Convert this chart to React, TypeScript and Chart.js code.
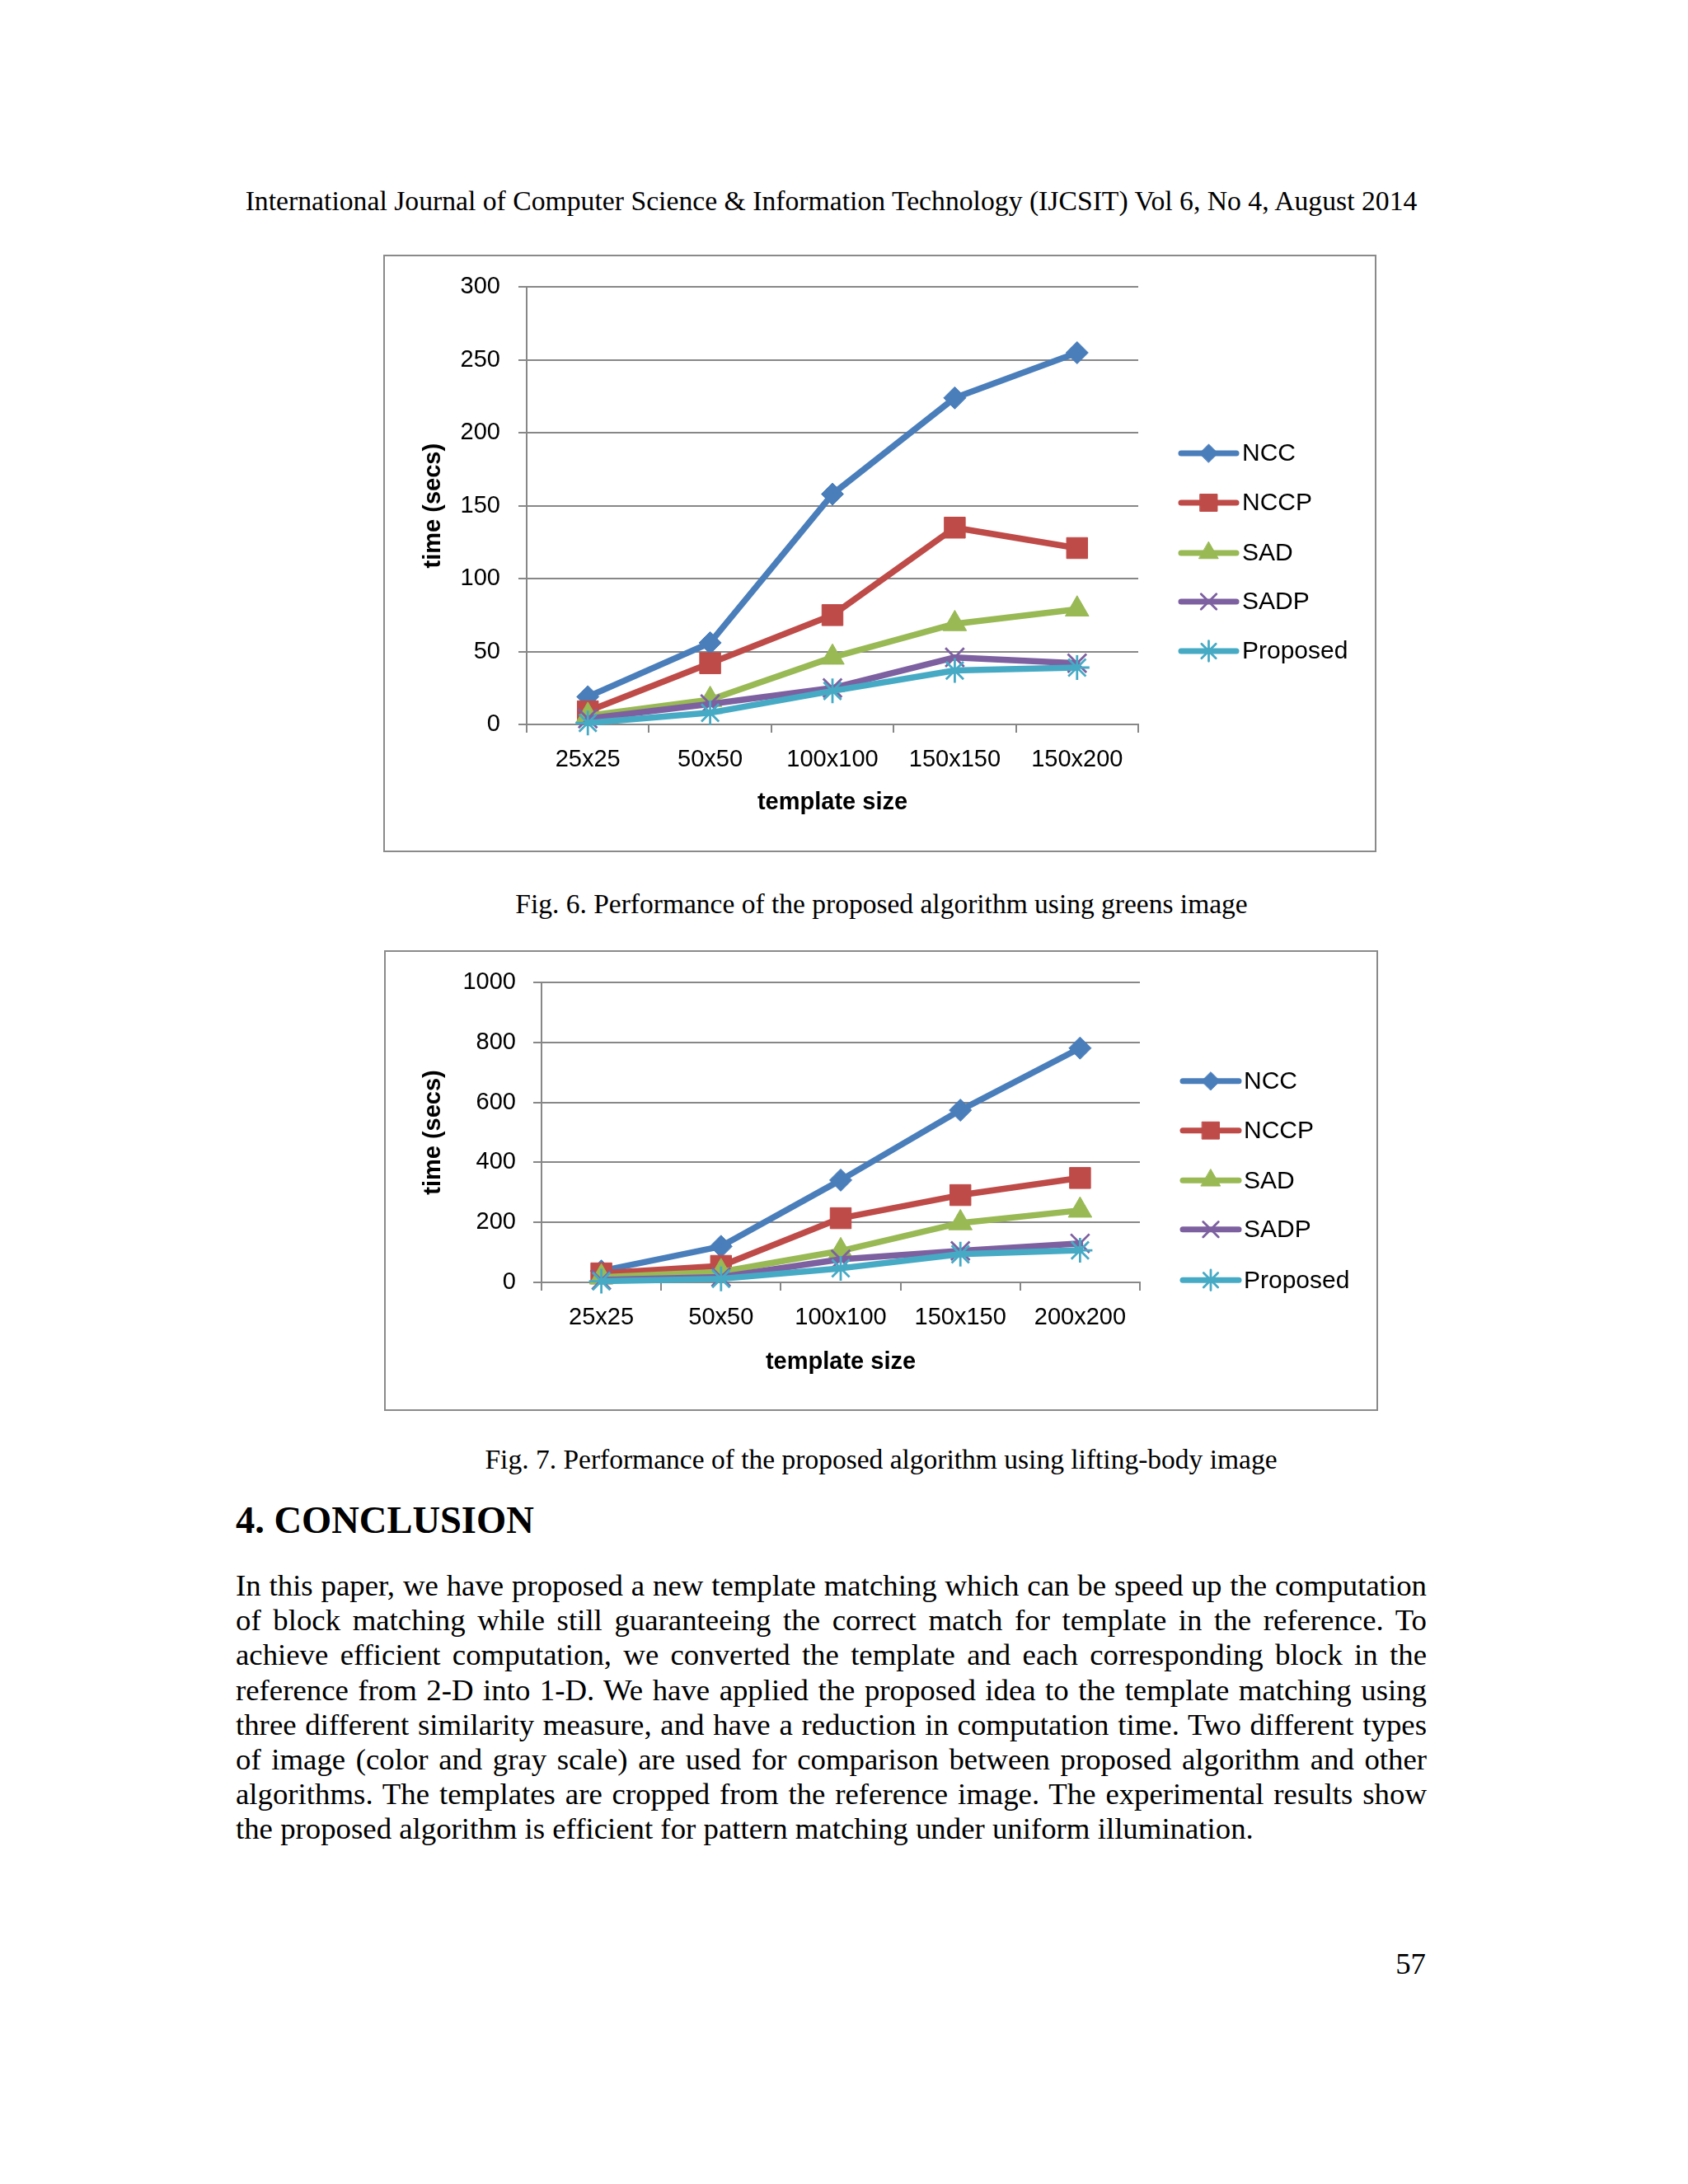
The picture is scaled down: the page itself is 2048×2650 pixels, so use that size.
import React, { useEffect, useRef } from 'react';
import { Chart, registerables } from 'chart.js';
import { drawPoint } from 'chart.js/helpers';

Chart.register(...registerables);

// ---------- data ----------
const SERIES_NAMES = ['NCC', 'NCCP', 'SAD', 'SADP', 'Proposed'];

const FIG6_CATEGORIES = ['25x25', '50x50', '100x100', '150x150', '150x200'];
const FIG6_NCC = [19, 56, 158, 224, 255];
const FIG6_NCCP = [9, 42, 75, 135, 121];
const FIG6_SAD = [6, 17, 46, 69, 79];
const FIG6_SADP = [4, 14, 25, 46, 42];
const FIG6_PROPOSED = [1, 8, 23, 37, 39];
const FIG6_Y_MAX = 300;
const FIG6_Y_STEP = 50;

const FIG7_CATEGORIES = ['25x25', '50x50', '100x100', '150x150', '200x200'];
const FIG7_NCC = [38, 120, 341, 574, 781];
const FIG7_NCCP = [30, 55, 214, 291, 348];
const FIG7_SAD = [17, 35, 105, 198, 240];
const FIG7_SADP = [8, 18, 77, 105, 130];
const FIG7_PROPOSED = [4, 12, 47, 94, 107];
const FIG7_Y_MAX = 1000;
const FIG7_Y_STEP = 200;

const X_TITLE = 'template size';
const Y_TITLE = 'time (secs)';

// ---------- styles ----------
const SERIES_COLORS = ['#4A7EBB', '#BE4B48', '#98B954', '#7D60A0', '#46AAC5'];
const POINT_STYLES = ['rectRot', 'rect', 'triangle', 'crossRot', 'star'];
const POINT_RADII = [13.5, 18, 16.5, 16, 15];
const GRID = '#878787';
const SANS = '"Liberation Sans", Arial, sans-serif';
const SERIF = '"Liberation Serif", "Times New Roman", serif';

const sideLegend = {
  id: 'sideLegend',
  afterDraw(chart: any, _args: any, opts: any) {
    const ctx = chart.ctx;
    chart.data.datasets.forEach((ds: any, i: number) => {
      const y = opts.ys[i];
      ctx.save();
      ctx.strokeStyle = ds.borderColor;
      ctx.lineWidth = 7;
      ctx.lineCap = 'round';
      ctx.beginPath();
      ctx.moveTo(opts.x0, y);
      ctx.lineTo(opts.x1, y);
      ctx.stroke();
      ctx.fillStyle = ds.pointBackgroundColor;
      ctx.strokeStyle = ds.pointBorderColor;
      ctx.lineWidth = ds.pointBorderWidth;
      drawPoint(ctx, { pointStyle: ds.pointStyle, radius: ds.pointRadius * 0.82, rotation: 0, borderWidth: ds.pointBorderWidth }, (opts.x0 + opts.x1) / 2, y);
      ctx.fillStyle = '#000';
      ctx.font = `30px ${SANS}`;
      ctx.textBaseline = 'middle';
      ctx.textAlign = 'left';
      ctx.fillText(ds.label, opts.textX, y + 1);
      ctx.restore();
    });
  },
};

type ChartBoxProps = {
  left: number; top: number; w: number; h: number;
  categories: string[]; series: number[][]; yMax: number; yStep: number;
  plotLeft: number; plotRight: number; plotTop: number; plotBottom: number;
  xTitlePad: number; yTitlePad: number; yTickPad: number;
  legend: { x0: number; x1: number; textX: number; ys: number[] };
};

function ChartBox(p: ChartBoxProps) {
  const ref = useRef<HTMLCanvasElement>(null);
  useEffect(() => {
    const tickFont = { family: SANS, size: 29 };
    const titleFont = { family: SANS, size: 29, weight: 'bold' as const };
    const chart = new Chart(ref.current!, {
      type: 'line',
      data: {
        labels: p.categories,
        datasets: p.series.map((values, i) => ({
          label: SERIES_NAMES[i],
          data: values,
          borderColor: SERIES_COLORS[i],
          backgroundColor: SERIES_COLORS[i],
          pointBackgroundColor: SERIES_COLORS[i],
          pointBorderColor: SERIES_COLORS[i],
          pointStyle: POINT_STYLES[i] as any,
          pointRadius: POINT_RADII[i],
          pointBorderWidth: i >= 3 ? 2.8 : 1,
          borderWidth: 7.5,
          borderCapStyle: 'round',
          borderJoinStyle: 'round',
          tension: 0,
          fill: false,
          order: 10 - i,
          clip: false as any,
        })),
      },
      options: {
        animation: false,
        responsive: false,
        devicePixelRatio: 1,
        layout: { padding: { left: 0, top: p.plotTop, right: p.w - p.plotRight, bottom: 0 } },
        plugins: {
          legend: { display: false },
          tooltip: { enabled: false },
          sideLegend: p.legend,
        } as any,
        scales: {
          x: {
            type: 'category',
            offset: true,
            grid: { display: true, drawOnChartArea: false, drawTicks: true, tickLength: 10, offset: true, color: GRID, lineWidth: 2 },
            border: { display: true, color: GRID, width: 2 },
            ticks: { font: tickFont, color: '#000', padding: 16, maxRotation: 0, autoSkip: false },
            title: { display: true, text: X_TITLE, font: titleFont, color: '#000', padding: { top: 0, bottom: p.xTitlePad } },
            afterFit: (s: any) => { s.height = p.h - p.plotBottom; },
          },
          y: {
            min: 0,
            max: p.yMax,
            ticks: { stepSize: p.yStep, font: tickFont, color: '#000', padding: p.yTickPad, callback: (v: any) => String(v) },
            grid: { color: GRID, lineWidth: 2, tickLength: 10, drawTicks: true },
            border: { display: true, color: GRID, width: 2 },
            title: { display: true, text: Y_TITLE, font: titleFont, color: '#000', padding: { top: p.yTitlePad, bottom: 0 } },
            afterFit: (s: any) => { s.width = p.plotLeft; },
          },
        },
      },
      plugins: [sideLegend],
    });
    return () => chart.destroy();
  }, []);
  return (
    <div style={{ position: 'absolute', left: p.left, top: p.top, width: p.w, height: p.h }}>
      <canvas ref={ref} width={p.w} height={p.h} style={{ position: 'absolute', left: 0, top: 0, width: p.w, height: p.h, display: 'block' }} />
      <div style={{ position: 'absolute', left: 0, top: 0, width: p.w, height: p.h, boxSizing: 'border-box', border: '2px solid #8a8a8a' }} />
    </div>
  );
}

function Text(props: { cx?: number; left?: number; right?: number; cy: number; size: number; bold?: boolean; children: any }) {
  const lh = props.size * 1.3;
  const style: any = {
    position: 'absolute',
    top: props.cy - lh / 2,
    height: lh,
    lineHeight: `${lh}px`,
    fontFamily: SERIF,
    fontSize: props.size,
    fontWeight: props.bold ? 'bold' : 'normal',
    color: '#000',
    whiteSpace: 'nowrap',
  };
  if (props.cx !== undefined) { style.left = props.cx - 1000; style.width = 2000; style.textAlign = 'center'; }
  else if (props.right !== undefined) { style.left = props.right - 1000; style.width = 1000; style.textAlign = 'right'; }
  else { style.left = props.left; }
  return <div style={style}>{props.children}</div>;
}

const PARAGRAPH_LINES = [
  'In this paper, we have proposed a new template matching which can be speed up the computation',
  'of block matching while still guaranteeing the correct match for template in the reference. To',
  'achieve efficient computation, we converted the template and each corresponding block in the',
  'reference from 2-D into 1-D. We have applied the proposed idea to the template matching using',
  'three different similarity measure, and have a reduction in computation time. Two different types',
  'of image (color and gray scale) are used for comparison between proposed algorithm and other',
  'algorithms. The templates are cropped from the reference image. The experimental results show',
  'the proposed algorithm is efficient for pattern matching under uniform illumination.',
];

export default function App() {
  const bodySize = 36.8;
  const lineGap = 42.2;
  return (
    <div style={{ position: 'absolute', left: 0, top: 0, width: 2048, height: 2650, background: '#fff', overflow: 'hidden' }}>
      <Text cx={1008.5} cy={244} size={33.7}>
        International Journal of Computer Science &amp; Information Technology (IJCSIT) Vol 6, No 4, August 2014
      </Text>
      <ChartBox
        left={465} top={309} w={1205} h={725}
        categories={FIG6_CATEGORIES}
        series={[FIG6_NCC, FIG6_NCCP, FIG6_SAD, FIG6_SADP, FIG6_PROPOSED]}
        yMax={FIG6_Y_MAX} yStep={FIG6_Y_STEP}
        plotLeft={174} plotRight={916} plotTop={37} plotBottom={570}
        xTitlePad={43} yTitlePad={44} yTickPad={22}
        legend={{ x0: 968, x1: 1035, textX: 1042, ys: [241, 301, 362, 421, 481] }}
      />
      <Text cx={1069.5} cy={1097} size={33.5}>Fig. 6. Performance of the proposed algorithm using greens image</Text>
      <ChartBox
        left={466} top={1153} w={1206} h={559}
        categories={FIG7_CATEGORIES}
        series={[FIG7_NCC, FIG7_NCCP, FIG7_SAD, FIG7_SADP, FIG7_PROPOSED]}
        yMax={FIG7_Y_MAX} yStep={FIG7_Y_STEP}
        plotLeft={191} plotRight={917} plotTop={39} plotBottom={403}
        xTitlePad={42} yTitlePad={43} yTickPad={21}
        legend={{ x0: 969, x1: 1037, textX: 1043, ys: [158.7, 218.7, 279.3, 338.7, 400.3] }}
      />
      <Text cx={1069} cy={1771} size={33.5}>Fig. 7. Performance of the proposed algorithm using lifting-body image</Text>
      <Text left={286} cy={1845} size={46.5} bold>4. CONCLUSION</Text>
      {PARAGRAPH_LINES.map((line, i) => {
        const last = i === PARAGRAPH_LINES.length - 1;
        return (
          <div key={i} style={{
            position: 'absolute', left: 286, width: 1445, top: 1924 + i * lineGap - lineGap / 2, height: lineGap,
            lineHeight: `${lineGap}px`, fontFamily: SERIF, fontSize: bodySize, color: '#000',
            textAlign: last ? 'left' : 'justify', textAlignLast: last ? 'left' : 'justify',
          } as any}>{line}</div>
        );
      })}
      <Text right={1730} cy={2383} size={36.8}>57</Text>
    </div>
  );
}
